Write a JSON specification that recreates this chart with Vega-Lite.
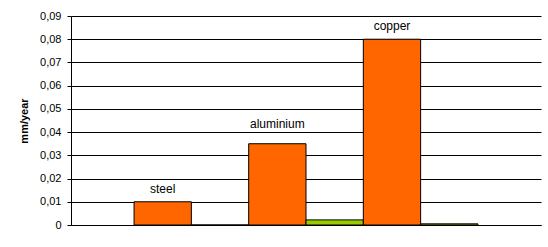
{
  "$schema": "https://vega.github.io/schema/vega-lite/v6.json",
  "width": 470,
  "height": 209,
  "autosize": "none",
  "padding": {"left": 71, "top": 16, "right": 7, "bottom": 22},
  "background": "white",
  "config": {
    "view": {"stroke": null},
    "locale": {"number": {"decimal": ",", "thousands": ".", "grouping": [3], "currency": ["", " €"]}},
    "font": "Liberation Sans"
  },
  "data": {
    "values": [
      {"material": "steel", "series": "series 1", "value": 0.01},
      {"material": "steel", "series": "series 2", "value": 0},
      {"material": "aluminium", "series": "series 1", "value": 0.035},
      {"material": "aluminium", "series": "series 2", "value": 0.0022},
      {"material": "copper", "series": "series 1", "value": 0.08},
      {"material": "copper", "series": "series 2", "value": 0.0005}
    ]
  },
  "encoding": {
    "x": {
      "field": "material",
      "type": "nominal",
      "sort": ["steel", "aluminium", "copper"],
      "scale": {"paddingInner": 0, "paddingOuter": 0.55},
      "axis": {"labels": false, "ticks": false, "title": null, "domainColor": "black", "domainWidth": 1}
    },
    "xOffset": {"field": "series", "type": "nominal", "sort": ["series 1", "series 2"]},
    "y": {
      "field": "value",
      "type": "quantitative",
      "scale": {"domain": [0, 0.09], "nice": false, "zero": true},
      "axis": {
        "values": [0, 0.01, 0.02, 0.03, 0.04, 0.05, 0.06, 0.07, 0.08, 0.09],
        "format": ".2~f",
        "title": "mm/year",
        "titleFont": "Liberation Sans",
        "titleFontSize": 11,
        "titleFontWeight": "bold",
        "titleColor": "black",
        "titlePadding": 10,
        "labelFont": "Liberation Sans",
        "labelFontSize": 11,
        "labelColor": "black",
        "labelPadding": 6,
        "tickSize": 4,
        "tickColor": "black",
        "domainColor": "black",
        "grid": true,
        "gridColor": "black",
        "gridOpacity": 1,
        "gridWidth": 1
      }
    }
  },
  "layer": [
    {
      "mark": {"type": "bar", "stroke": "black", "strokeWidth": 1},
      "encoding": {
        "color": {
          "field": "series",
          "type": "nominal",
          "scale": {"domain": ["series 1", "series 2"], "range": ["#FF6600", "#99CC00"]},
          "legend": null
        }
      }
    },
    {
      "transform": [{"filter": "datum.series === 'series 1' && datum.material !== 'aluminium'"}],
      "mark": {"type": "text", "baseline": "middle", "align": "center", "dy": -13, "fontSize": 12, "font": "Liberation Sans", "color": "black"},
      "encoding": {"text": {"field": "material"}}
    },
    {
      "transform": [{"filter": "datum.series === 'series 1' && datum.material === 'aluminium'"}],
      "mark": {"type": "text", "baseline": "middle", "align": "center", "dy": -20, "fontSize": 12, "font": "Liberation Sans", "color": "black"},
      "encoding": {"text": {"field": "material"}}
    }
  ]
}
